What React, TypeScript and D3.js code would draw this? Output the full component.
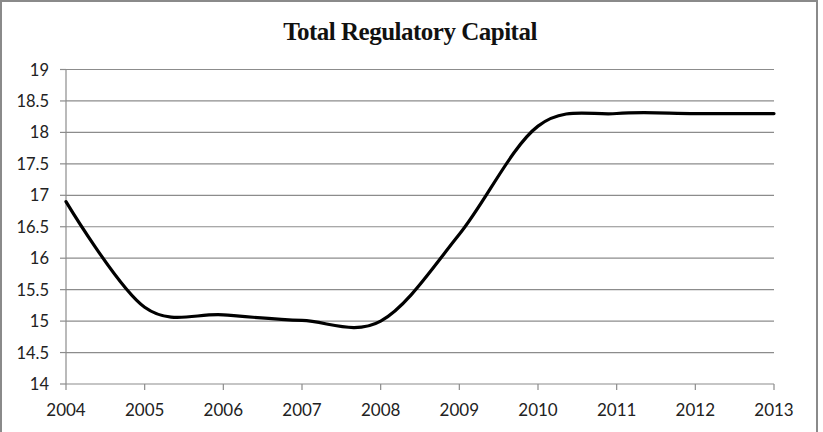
import React from "react";
import * as d3 from "d3";

const years = [2004, 2005, 2006, 2007, 2008, 2009, 2010, 2011, 2012, 2013];
const capital = [16.9, 15.22, 15.1, 15.01, 15.0, 16.38, 18.1, 18.3, 18.3, 18.3];
const yTicks = [14, 14.5, 15, 15.5, 16, 16.5, 17, 17.5, 18, 18.5, 19];

const W = 823;
const H = 432;
const left = 66;
const right = 774;
const top = 69.5;
const bottom = 384;

export default function App() {
  const x = d3.scaleLinear().domain([2004, 2013]).range([left, right]);
  const y = d3.scaleLinear().domain([14, 19]).range([bottom, top]);
  const line = d3
    .line<number>()
    .x((_, i) => x(years[i]))
    .y((d) => y(d))
    .curve(d3.curveCatmullRom.alpha(0));
  const labelFont = "Lato, 'Open Sans', sans-serif";
  return (
    <svg
      width={W}
      height={H}
      style={{ position: "absolute", left: 0, top: 0, background: "#fff" }}
    >
      <rect x={1} y={1} width={816} height={460} fill="#fff" stroke="#8a8a8a" strokeWidth={2} />
      <text
        x={410}
        y={40}
        textAnchor="middle"
        fontFamily="'Liberation Serif', 'Times New Roman', serif"
        fontWeight="bold"
        fontSize={25}
        fill="#111"
        style={{ letterSpacing: "-0.5px" }}
      >
        Total Regulatory Capital
      </text>
      {yTicks.map((t) => (
        <g key={t}>
          {t > 14 && (
            <line x1={left} x2={right} y1={y(t)} y2={y(t)} stroke="#8c8c8c" strokeWidth={1.2} />
          )}
          <line x1={left - 6} x2={left} y1={y(t)} y2={y(t)} stroke="#8c8c8c" strokeWidth={1.2} />
          <text
            x={49}
            y={y(t) + 6}
            textAnchor="end"
            fontFamily={labelFont}
            fontSize={16.5}
            fill="#222"
          >
            {t}
          </text>
        </g>
      ))}
      <line x1={left} x2={left} y1={top} y2={bottom} stroke="#8c8c8c" strokeWidth={1.2} />
      <line x1={left} x2={right} y1={bottom} y2={bottom} stroke="#8c8c8c" strokeWidth={1.2} />
      {years.map((yr) => (
        <g key={yr}>
          <line x1={x(yr)} x2={x(yr)} y1={bottom} y2={bottom + 6} stroke="#8c8c8c" strokeWidth={1.2} />
          <text
            x={x(yr)}
            y={416}
            textAnchor="middle"
            fontFamily={labelFont}
            fontSize={17}
            fill="#222"
          >
            {yr}
          </text>
        </g>
      ))}
      <path d={line(capital) ?? ""} fill="none" stroke="#000" strokeWidth={3.2} strokeLinecap="round" />
    </svg>
  );
}
